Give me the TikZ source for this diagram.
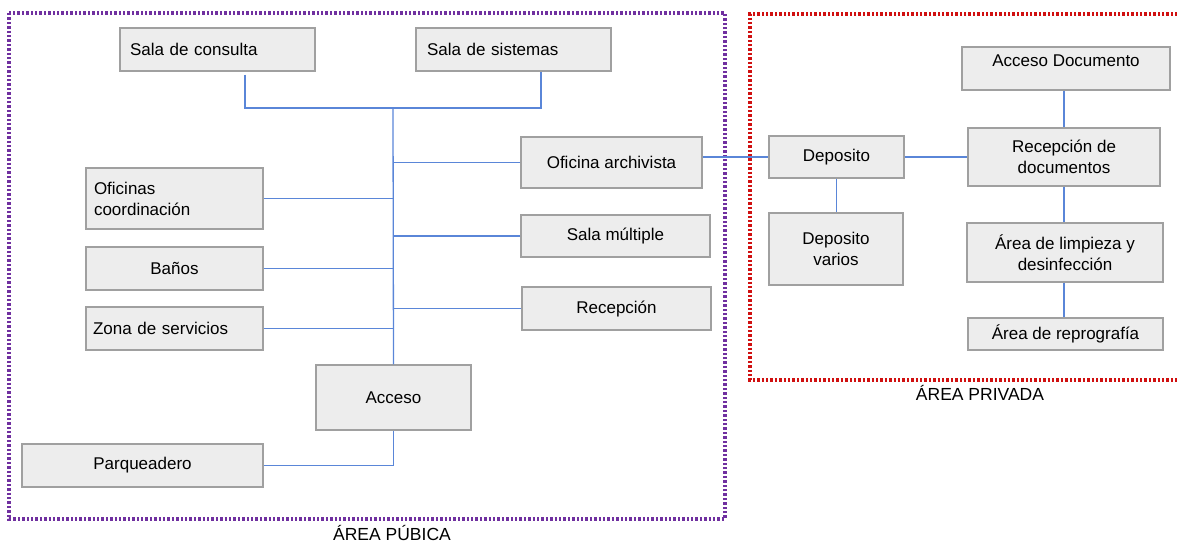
\documentclass[tikz,border=0pt]{standalone}
\usepackage{fontspec}
\setmainfont{Liberation Sans}
\definecolor{boxfill}{HTML}{EDEDED}
\definecolor{boxline}{HTML}{A0A0A0}
\definecolor{conn}{HTML}{5A86D8}
\definecolor{purp}{HTML}{7030A0}
\definecolor{redf}{HTML}{D01010}
\tikzset{
  box/.style={draw=boxline, fill=boxfill, line width=1.3pt, inner sep=0pt, font=\fontsize{17}{21}\selectfont, align=center},
  txt/.style={inner sep=0pt, font=\fontsize{17}{21}\selectfont, align=center},
  lab/.style={inner sep=0pt, anchor=base, font=\fontsize{17.5}{20}\selectfont},
  conn/.style={draw=conn, line width=1.3pt},
  frame/.style={line width=3.2pt, dash pattern=on 2.4pt off 2pt}
}
\begin{document}
\begin{tikzpicture}[x=1pt,y=-1pt]
\useasboundingbox (0,0) rectangle (1177,542);
% frames
\draw[frame, draw=purp] (9,13) rectangle (725,519);
\draw[frame, draw=redf] (1182,14) -- (750,14) -- (750,380) -- (1182,380);
\node[lab] (lpub) at (392,540.5) {ÁREA PÚBICA};
\node[lab] (lpri) at (980,400) {ÁREA PRIVADA};
% public boxes
\node[box, minimum width=195, minimum height=43, text width=175, align=left] (sc) at (217.5,49.5) {Sala de consulta};
\node[box, minimum width=195, minimum height=43, text width=173, align=left] (ss) at (513.5,49.5) {Sala de sistemas};
\node[box, minimum width=181, minimum height=51] (ofa) at (611.5,162.5) {Oficina archivista};
\node[box, minimum width=189, minimum height=42] (sm) at (615.5,236) {Sala múltiple};
\node[box, minimum width=189, minimum height=43] (rec) at (616.5,308.5) {Recepción};
\node[box, minimum width=177, minimum height=61, text width=161, align=left] (oc) at (174.5,198.5) {Oficinas\\coordinación};
\node[box, minimum width=177, minimum height=43] (ban) at (174.5,268.5) {Baños};
\node[box, minimum width=177, minimum height=43, text width=163, align=left] (zs) at (174.5,328.5) {Zona de servicios};
\node[box, minimum width=155, minimum height=65] (ac) at (393.5,397.5) {Acceso};
\node[box, minimum width=241, minimum height=43] (pq) at (142.5,465.5) {Parqueadero};
% private boxes
\node[box, minimum width=135, minimum height=42] (dep) at (836.5,157) {Deposito};
\node[box, minimum width=134, minimum height=72] (dv) at (836,249) {Deposito\\varios};
\node[box, minimum width=208, minimum height=43] (ad) at (1066,68.5) {};
\node[txt] (adt) at (1066,61) {Acceso Documento};
\node[box, minimum width=192, minimum height=58] (rd) at (1064,157) {Recepción de\\documentos};
\node[box, minimum width=196, minimum height=59] (al) at (1065,252.5) {Área de limpieza y\\desinfección};
\node[box, minimum width=195, minimum height=32] (ar) at (1065.5,334) {Área de reprografía};
% connectors public
\coordinate (j1) at (393,108);
\draw[conn] ([xshift=27.5pt,yshift=-3pt]sc.south) |- (j1) -| ([xshift=27.5pt]ss.south);
\draw[conn] (j1) -- (ac.north);
\draw[conn] (ofa.west) -- (ofa.west -| j1);
\draw[conn] (sm.west) -- (sm.west -| j1);
\draw[conn] (rec.west) -- (rec.west -| j1);
\draw[conn] (oc.east) -- (oc.east -| j1);
\draw[conn] (ban.east) -- (ban.east -| j1);
\draw[conn] (zs.east) -- (zs.east -| j1);
\draw[conn] (ac.south) |- (pq.east);
% connectors private
\draw[conn] (ofa.east |- dep.west) -- (dep.west);
\draw[conn] (dep.east) -- (rd.west);
\draw[conn] (dep.south) -- (dep.south |- dv.north);
\draw[conn] (ad.south -| rd.south) -- (rd.south |- rd.north);
\draw[conn] (rd.south) -- (rd.south |- al.north);
\draw[conn] (rd.south |- al.south) -- (rd.south |- ar.north);
\end{tikzpicture}
\end{document}
